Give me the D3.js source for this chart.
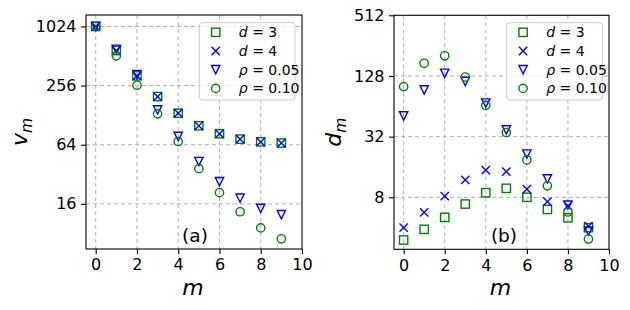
<!DOCTYPE html>
<html>
<head>
<meta charset="utf-8">
<script src="https://cdn.jsdelivr.net/npm/d3@7"></script>
<style>
  body { margin: 0; background: #fff; }
  svg { font-family: "DejaVu Sans", sans-serif; }
</style>
</head>
<body>
<div id="chart"></div>
<script>
// DATA
var mVals = [0, 1, 2, 3, 4, 5, 6, 7, 8, 9];
var xTicks = [0, 2, 4, 6, 8, 10];

// panel (a): v_m
var vD3 = [1024, 582, 322, 198, 134, 99.8, 82.8, 73, 68.5, 66.6];
var vD4 = [1024, 582, 322, 198, 134, 99.8, 82.8, 73, 68.5, 66.6];
var vRho05 = [1024, 600, 332, 145, 77.7, 43.2, 26.9, 18.3, 14.4, 12.4];
var vRho10 = [1024, 514, 258, 132, 69, 36.5, 20.8, 13.3, 9.1, 7.05];
var vTicks = [16, 64, 256, 1024];

// panel (b): d_m
var dD3 = [3.02, 3.85, 5.06, 6.86, 8.89, 9.83, 8.0, 6.07, 5.01, 4.0];
var dD4 = [4.0, 5.67, 8.24, 11.9, 14.9, 14.4, 9.65, 7.26, 6.57, 4.15];
var dRho05 = [51.4, 93, 136, 113, 69, 37.3, 21.5, 12.2, 6.7, 3.7];
var dRho10 = [100.4, 171, 203, 125, 65.4, 35.2, 18.8, 10.4, 5.72, 3.08];
var dTicks = [8, 32, 128, 512];

var legendLabels = ["d = 3", "d = 4", "\u03C1 = 0.05", "\u03C1 = 0.10"];

var GREEN = "#008000", BLUE = "#0000ff";
var MS = 8.3; // marker size px

var svg = d3.select("#chart").append("svg")
  .attr("width", 630).attr("height", 310);

// marker drawers
function drawMarker(g, type, cx, cy, color) {
  var h = MS / 2;
  if (type === "square") {
    g.append("rect").attr("x", cx - h).attr("y", cy - h)
      .attr("width", MS).attr("height", MS)
      .attr("fill", "none").attr("stroke", color).attr("stroke-width", 1.4);
  } else if (type === "x") {
    g.append("path")
      .attr("d", `M${cx - h},${cy - h}L${cx + h},${cy + h}M${cx - h},${cy + h}L${cx + h},${cy - h}`)
      .attr("fill", "none").attr("stroke", color).attr("stroke-width", 1.4);
  } else if (type === "tri") {
    g.append("path")
      .attr("d", `M${cx - h},${cy - h}L${cx + h},${cy - h}L${cx},${cy + h}Z`)
      .attr("fill", "none").attr("stroke", color).attr("stroke-width", 1.4)
      .attr("stroke-linejoin", "miter");
  } else {
    g.append("circle").attr("cx", cx).attr("cy", cy).attr("r", h)
      .attr("fill", "none").attr("stroke", color).attr("stroke-width", 1.4);
  }
}

var seriesStyle = [
  { type: "square", color: GREEN },
  { type: "x", color: BLUE },
  { type: "tri", color: BLUE },
  { type: "circle", color: GREEN }
];

function drawPanel(opt) {
  var x = d3.scaleLinear().domain([-0.47, 10]).range([opt.x0, opt.x1]);
  var y = d3.scaleLog().base(2).domain(opt.yDomain).range([opt.y1, opt.y0]);

  var g = svg.append("g");

  // grid
  g.selectAll(".gx").data(xTicks.filter(function(t) { return t < 10; })).enter().append("line")
    .attr("x1", function(d) { return x(d); }).attr("x2", function(d) { return x(d); })
    .attr("y1", opt.y0).attr("y2", opt.y1)
    .attr("stroke", "#b0b0b0").attr("stroke-width", 1).attr("stroke-dasharray", "4,3");
  g.selectAll(".gy").data(opt.yTicks.filter(function(t) { return y(t) > opt.y0 + 1; })).enter().append("line")
    .attr("x1", opt.x0).attr("x2", opt.x1)
    .attr("y1", function(d) { return y(d); }).attr("y2", function(d) { return y(d); })
    .attr("stroke", "#b0b0b0").attr("stroke-width", 1).attr("stroke-dasharray", "4,3");

  // axes
  var xAxis = g.append("g").attr("transform", `translate(0,${opt.y1})`)
    .call(d3.axisBottom(x).tickValues(xTicks).tickSize(5).tickPadding(5).tickFormat(d3.format("d")));
  var yAxis = g.append("g").attr("transform", `translate(${opt.x0},0)`)
    .call(d3.axisLeft(y).tickValues(opt.yTicks).tickSize(5).tickPadding(4.5).tickFormat(d3.format("d")));
  [xAxis, yAxis].forEach(function(a) {
    a.select(".domain").remove();
    a.selectAll(".tick line").attr("stroke", "#000").attr("stroke-width", 1.1);
    a.selectAll(".tick text").attr("font-size", 16).attr("fill", "#000")
      .attr("font-family", "DejaVu Sans");
  });

  // marks
  var series = opt.series;
  series.forEach(function(vals, si) {
    var st = seriesStyle[si];
    var sg = g.append("g");
    mVals.forEach(function(m, i) {
      drawMarker(sg, st.type, x(m), y(vals[i]), st.color);
    });
  });

  // frame
  g.append("rect").attr("x", opt.x0).attr("y", opt.y0)
    .attr("width", opt.x1 - opt.x0).attr("height", opt.y1 - opt.y0)
    .attr("fill", "none").attr("stroke", "#000").attr("stroke-width", 1.1);

  // legend
  var lx = opt.legX, ly = 22.7;
  var leg = g.append("g");
  leg.append("rect").attr("x", lx).attr("y", ly).attr("width", 95.7).attr("height", 77.3)
    .attr("rx", 3).attr("fill", "#fff").attr("fill-opacity", 0.8)
    .attr("stroke", "#cccccc").attr("stroke-width", 1);
  legendLabels.forEach(function(lab, i) {
    var cy = ly + 9.6 + i * 18.7;
    drawMarker(leg, seriesStyle[i].type, lx + 16.4, cy, seriesStyle[i].color);
    var t = leg.append("text").attr("x", lx + 39.5).attr("y", cy + 5)
      .attr("font-size", 14).attr("fill", "#000");
    var parts = lab.split(" = ");
    t.append("tspan").attr("font-style", "italic").text(parts[0]);
    t.append("tspan").text(" = " + parts[1]);
  });

  // panel tag
  g.append("text").attr("x", opt.tagX).attr("y", 241.5).attr("font-size", 18.5)
    .attr("text-anchor", "middle").attr("fill", "#000").text(opt.tag);

  // axis labels
  g.append("text").attr("x", (opt.x0 + opt.x1) / 2 - 1).attr("y", 295)
    .attr("text-anchor", "middle").attr("font-size", 22).attr("font-style", "italic")
    .text("m");
  var yl = g.append("text")
    .attr("transform", `translate(${opt.ylX},${(opt.y0 + opt.y1) / 2}) rotate(-90)`)
    .attr("text-anchor", "middle").attr("font-size", 22).attr("font-style", "italic");
  yl.append("tspan").text(opt.yName);
  yl.append("tspan").attr("font-size", 15.5).attr("dy", 4.5).text("m");
}

drawPanel({
  x0: 86, x1: 302, y0: 15, y1: 249,
  yDomain: [5.55, 1340], yTicks: vTicks,
  series: [vD3, vD4, vRho05, vRho10],
  legX: 199.3, tag: "(a)", tagX: 195, ylX: 27, yName: "v"
});

drawPanel({
  x0: 394, x1: 609, y0: 15.3, y1: 249.3,
  yDomain: [2.44, 512], yTicks: dTicks,
  series: [dD3, dD4, dRho05, dRho10],
  legX: 506.7, tag: "(b)", tagX: 504, ylX: 341, yName: "d"
});
</script>
</body>
</html>
